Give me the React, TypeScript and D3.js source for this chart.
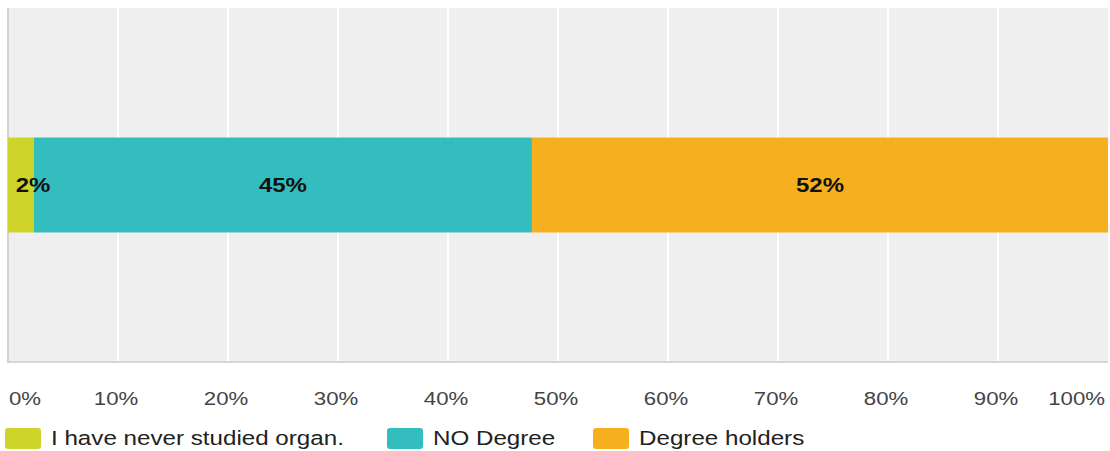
import React, { useEffect, useRef } from 'react';
import * as d3 from 'd3';

// data
const categories = ['Q1'];
const seriesNames = ['I have never studied organ.', 'NO Degree', 'Degree holders'];
const seriesValues = [2.36, 45.27, 52.37];
const seriesColors = ['#cfd42a', '#33bdbf', '#f6b01f'];
const tickValues = [0, 10, 20, 30, 40, 50, 60, 70, 80, 90, 100];

const W = 1110;
const H = 451;
const FONT = '"Liberation Sans", Arial, sans-serif';
const SX = 1.2; // the picture is stretched sideways

function App() {
    const svgRef = useRef<SVGSVGElement>(null);

    useEffect(() => {
        const svg = d3.select(svgRef.current);
        svg.selectAll('*').remove();

        const margin = { top: 8, right: 2, bottom: 89, left: 8 };
        const width = W - margin.left - margin.right;
        const height = H - margin.top - margin.bottom;

        const chart = svg.append('g')
            .attr('transform', `translate(${margin.left},${margin.top})`);

        const xScale = d3.scaleLinear().domain([0, 100]).range([0, width]);
        const yScale = d3.scaleBand().domain(categories).range([0, height])
            .paddingInner(0.577).paddingOuter(0.577);

        // plot background
        chart.append('rect')
            .attr('x', 0).attr('y', 0)
            .attr('width', width).attr('height', height)
            .attr('fill', '#efefef');

        // grid lines
        chart.selectAll('.grid')
            .data(tickValues.slice(1, -1))
            .enter()
            .append('line')
            .attr('x1', d => xScale(d)).attr('x2', d => xScale(d))
            .attr('y1', 0).attr('y2', height)
            .attr('stroke', '#ffffff')
            .attr('stroke-width', 2);

        // borders
        chart.append('line')
            .attr('x1', 0).attr('x2', 0).attr('y1', 0).attr('y2', height + 1)
            .attr('stroke', '#d2d2d2').attr('stroke-width', 2);
        chart.append('line')
            .attr('x1', 0).attr('x2', width).attr('y1', height).attr('y2', height)
            .attr('stroke', '#d6d6d6').attr('stroke-width', 2);

        // stacked segments
        const segs: { name: string; start: number; end: number; value: number; color: string }[] = [];
        let acc = 0;
        seriesValues.forEach((v, i) => {
            segs.push({ name: seriesNames[i], start: acc, end: acc + v, value: v, color: seriesColors[i] });
            acc += v;
        });

        const y0 = yScale(categories[0]) as number;
        const bw = yScale.bandwidth();

        chart.selectAll('.bar')
            .data(segs)
            .enter()
            .append('rect')
            .attr('x', d => xScale(d.start))
            .attr('y', y0)
            .attr('width', d => xScale(d.end) - xScale(d.start))
            .attr('height', bw)
            .attr('fill', d => d.color);

        // value labels (kept clear of the left edge)
        chart.selectAll('.label')
            .data(segs)
            .enter()
            .append('text')
            .attr('transform', d => {
                const cx = Math.max((xScale(d.start) + xScale(d.end)) / 2, 25);
                return `translate(${cx},${y0 + bw / 2 + 7}) scale(${SX},1)`;
            })
            .attr('text-anchor', 'middle')
            .style('font-family', FONT)
            .style('font-size', '20px')
            .style('font-weight', 'bold')
            .attr('fill', '#111')
            .text(d => `${Math.round(d.value)}%`);

        // x axis labels
        chart.selectAll('.tick')
            .data(tickValues)
            .enter()
            .append('text')
            .attr('transform', d => {
                let x = xScale(d) - 2;
                if (d === 0) x = 1;
                if (d === 100) x = width - 3;
                return `translate(${x},${397}) scale(${SX},1)`;
            })
            .attr('text-anchor', d => (d === 0 ? 'start' : d === 100 ? 'end' : 'middle'))
            .style('font-family', FONT)
            .style('font-size', '18.5px')
            .attr('fill', '#444')
            .text(d => `${d}%`);

        // legend
        const legendX = [5, 387, 593];
        const legend = svg.selectAll('.legend')
            .data(segs)
            .enter()
            .append('g')
            .attr('transform', (d, i) => `translate(${legendX[i]},428)`);
        legend.append('rect')
            .attr('width', 36).attr('height', 21)
            .attr('rx', 3)
            .attr('fill', d => d.color);
        legend.append('text')
            .attr('transform', 'translate(46,17) scale(1.24,1)')
            .style('font-family', FONT)
            .style('font-size', '19.5px')
            .attr('fill', '#222')
            .text(d => d.name);
    }, []);

    return (
        <svg ref={svgRef} width={W} height={H}
            style={{ position: 'absolute', left: 0, top: 0, background: '#fff' }} />
    );
}

export default App;
